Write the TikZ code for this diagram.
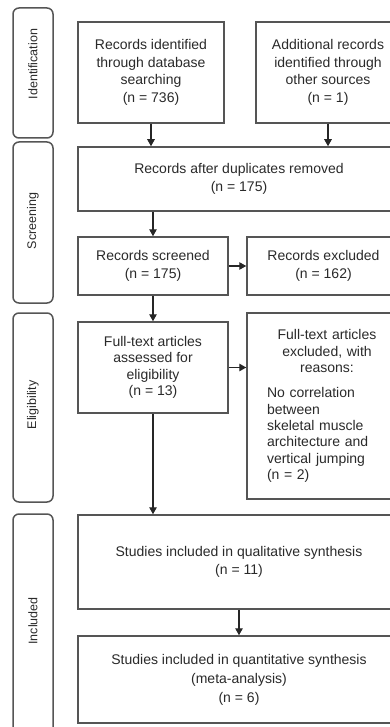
\documentclass[tikz,border=0pt]{standalone}
\usepackage{fontspec}
\setmainfont{Liberation Sans}
\usetikzlibrary{arrows.meta}
\definecolor{ink}{HTML}{2A2A2A}
\definecolor{rule}{HTML}{555555}
\begin{document}
\begin{tikzpicture}[x=1pt,y=-1pt,
  box/.style={draw=rule, line width=1.5pt, fill=white, text=ink, align=center,
    inner sep=0pt, font=\fontsize{14}{17.5}\selectfont},
  stage/.style={draw=rule, line width=1.5pt, rounded corners=6pt,
    minimum width=40pt, inner sep=0pt},
  stagelabel/.style={rotate=90, text=ink, inner sep=0pt,
    font=\fontsize{12.5}{15}\selectfont},
  arr/.style={draw=black!85, line width=1.2pt, -{Triangle[length=7pt,width=7.5pt]}}]
\useasboundingbox (0,0) rectangle (390,727);
\clip (0,0) rectangle (390,727);

% phase bands on the left
\node[stage, minimum height=130pt] (sid)  at (33,73)    {};
\node[stage, minimum height=161pt] (sscr) at (33,222.5) {};
\node[stage, minimum height=189pt] (sel)  at (33,407.5) {};
\node[stage, minimum height=226pt] (sin)  at (33,627)   {};
\node[stagelabel] (lid)  at (33,64)  {Identification};
\node[stagelabel] (lscr) at (33,221) {Screening};
\node[stagelabel] (lel)  at (33,405) {Eligibility};
\node[stagelabel] (lin)  at (33,621) {Included};

% identification
\node[box, minimum width=146pt, minimum height=101pt] (rec) at (151,72.5)
  {Records identified\\through database\\searching\\(n = 736)};
\node[box, minimum width=144pt, minimum height=101pt] (add) at (328,72.5)
  {Additional records\\identified through\\other sources\\(n = 1)};

% screening
\node[box, minimum width=322pt, minimum height=64pt] (dup) at (239,179)
  {Records after duplicates removed\\(n = 175)};
\node[box, minimum width=150pt, minimum height=58pt] (scr) at (153,266)
  {Records screened\\(n = 175)};
\node[box, minimum width=153pt, minimum height=58pt] (exc) at (323.5,266)
  {Records excluded\\(n = 162)};

% eligibility
\node[box, minimum width=150pt, minimum height=91pt, font=\fontsize{14}{16.5}\selectfont] (full) at (153,367.5)
  {Full-text articles\\assessed for\\eligibility\\(n = 13)};
\node[box, minimum width=153pt, minimum height=186pt] (fexc) at (323.5,406) {};
\node[text=ink, inner sep=0pt, text width=120pt, align=left,
  font=\fontsize{14}{16.3}\selectfont] (fexct) at (327,406)
  {{\centering Full-text articles\\excluded, with\\reasons:\par}\vspace{9pt}
   No correlation\\between\\skeletal muscle\\architecture and\\vertical jumping\\(n = 2)};

% included
\node[box, minimum width=322pt, minimum height=94pt] (qual) at (239,562)
  {Studies included in qualitative synthesis\\(n = 11)};
\node[box, minimum width=322pt, minimum height=87pt, font=\fontsize{14}{19}\selectfont] (quant) at (239,679.5)
  {Studies included in quantitative synthesis\\(meta-analysis)\\(n = 6)};

% connectors
\draw[arr] (rec.south) -- (rec.south |- dup.north);
\draw[arr] (add.south) -- (add.south |- dup.north);
\draw[arr] (scr.north |- dup.south) -- (scr.north);
\draw[arr] (scr.east) -- (scr.east -| exc.west);
\draw[arr] (scr.south) -- (full.north);
\draw[arr] (full.east) -- (full.east -| fexc.west);
\draw[arr] (full.south) -- (full.south |- qual.north);
\draw[arr] (qual.south) -- (quant.north);
\end{tikzpicture}
\end{document}
